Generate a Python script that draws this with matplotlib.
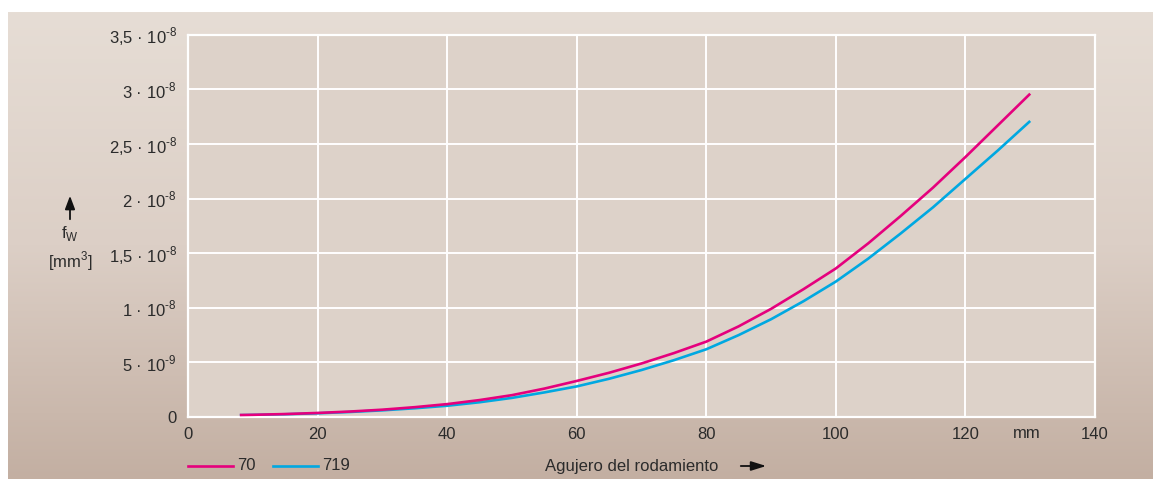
import numpy as np
import matplotlib
matplotlib.use("Agg")
import matplotlib.pyplot as plt
from matplotlib.colors import LinearSegmentedColormap

plt.rcParams['font.family'] = ['Liberation Sans', 'DejaVu Sans']

# Bore diameter d [mm]
bore = [8, 10, 15, 20, 25, 30, 35, 40, 45, 50, 55, 60, 65, 70, 75, 80,
        85, 90, 95, 100, 105, 110, 115, 120, 125, 130]
# f_w [mm^3] in units of 1e-8
fw_70 = [0.018, 0.020, 0.027, 0.037, 0.050, 0.067, 0.090, 0.118, 0.155, 0.200,
         0.260, 0.330, 0.405, 0.490, 0.585, 0.690, 0.830, 0.990, 1.170, 1.360,
         1.590, 1.840, 2.100, 2.380, 2.670, 2.960]
fw_719 = [0.017, 0.019, 0.025, 0.034, 0.046, 0.061, 0.080, 0.103, 0.135, 0.175,
          0.225, 0.280, 0.350, 0.430, 0.520, 0.620, 0.750, 0.895, 1.060, 1.240,
          1.450, 1.680, 1.920, 2.180, 2.440, 2.710]
series_names = ["70", "719"]
x_ticks = [0, 20, 40, 60, 80, 100, 120, 140]
y_ticks = [0, 0.5, 1.0, 1.5, 2.0, 2.5, 3.0, 3.5]
HY = "\u2010"
y_tick_labels = ["0",
                 r"5 · 10$^{\mathregular{" + HY + "9}}$",
                 r"1 · 10$^{\mathregular{" + HY + "8}}$",
                 r"1,5 · 10$^{\mathregular{" + HY + "8}}$",
                 r"2 · 10$^{\mathregular{" + HY + "8}}$",
                 r"2,5 · 10$^{\mathregular{" + HY + "8}}$",
                 r"3 · 10$^{\mathregular{" + HY + "8}}$",
                 r"3,5 · 10$^{\mathregular{" + HY + "8}}$"]

W, H = 1153, 479
FS = 12
fig = plt.figure(figsize=(W / 100, H / 100), dpi=100)
fig.patch.set_facecolor("white")

# Panel background with vertical gradient
bg = fig.add_axes([8 / W, 0, 1 - 8 / W, 1 - 12 / H], zorder=0)
cmap = LinearSegmentedColormap.from_list("bg", ["#e6ddd5", "#dccfc6", "#c3afa2"])
grad = np.linspace(0, 1, 256).reshape(-1, 1)
bg.imshow(grad, aspect="auto", cmap=cmap, extent=[0, 1, 0, 1], origin="upper")
bg.set_axis_off()

c70 = "#e5007d"
c719 = "#00a8e1"
text_c = "#2b2b2b"

ax = fig.add_axes([188 / W, 1 - 417 / H, (1095 - 188) / W, (417 - 34.7) / H], zorder=1)
ax.set_facecolor("#ddd2c9")
ax.plot(bore, fw_70, color=c70, lw=1.9, zorder=3, solid_capstyle="butt")
ax.plot(bore, fw_719, color=c719, lw=1.9, zorder=2, solid_capstyle="butt")

ax.set_xlim(0, 140)
ax.set_ylim(0, 3.5)
ax.set_xticks(x_ticks)
ax.set_yticks(y_ticks)
ax.set_yticklabels(y_tick_labels)
ax.grid(True, color="white", lw=1.4)
ax.set_axisbelow(True)
for s in ax.spines.values():
    s.set_color("white")
    s.set_linewidth(1.6)
ax.tick_params(length=0, labelsize=FS, colors=text_c)
ax.tick_params(axis="x", pad=7)
ax.tick_params(axis="y", pad=8)

# Unit label for x axis
ax.text(129.5, -(433 - 417) / (417 - 34.7), "mm", transform=ax.get_xaxis_transform(),
        ha="center", va="center", fontsize=FS, color=text_c)

# Y axis label with arrow
fig.text(70 / W, 1 - 243 / H, r"f$_\mathregular{W}$", ha="center", va="bottom",
         fontsize=FS, color=text_c)
fig.text(70 / W, 1 - 249 / H, r"[mm$^\mathregular{3}$]", ha="center", va="top",
         fontsize=FS, color=text_c)
fig.add_artist(matplotlib.patches.FancyArrowPatch(
    (70 / W, 1 - 222 / H), (70 / W, 1 - 193 / H), transform=fig.transFigure,
    arrowstyle="-|>,head_length=8,head_width=3", color="#111111", lw=1.3,
    mutation_scale=1))

# Legend
ly = 1 - 466 / H
fig.add_artist(plt.Line2D([188 / W, 233 / W], [ly, ly], color=c70, lw=1.9))
fig.text(237 / W, ly, series_names[0], ha="left", va="center", fontsize=FS, color=text_c)
fig.add_artist(plt.Line2D([273 / W, 318 / W], [ly, ly], color=c719, lw=1.9))
fig.text(322 / W, ly, series_names[1], ha="left", va="center", fontsize=FS, color=text_c)

# X axis title with arrow
fig.text(545 / W, ly, "Agujero del rodamiento", ha="left", va="center",
         fontsize=FS, color=text_c)
fig.add_artist(matplotlib.patches.FancyArrowPatch(
    (738 / W, ly), (769 / W, ly), transform=fig.transFigure,
    arrowstyle="-|>,head_length=9,head_width=2.8", color="#111111", lw=1.3,
    mutation_scale=1))

fig.savefig("out.png", dpi=100, facecolor=fig.get_facecolor())
